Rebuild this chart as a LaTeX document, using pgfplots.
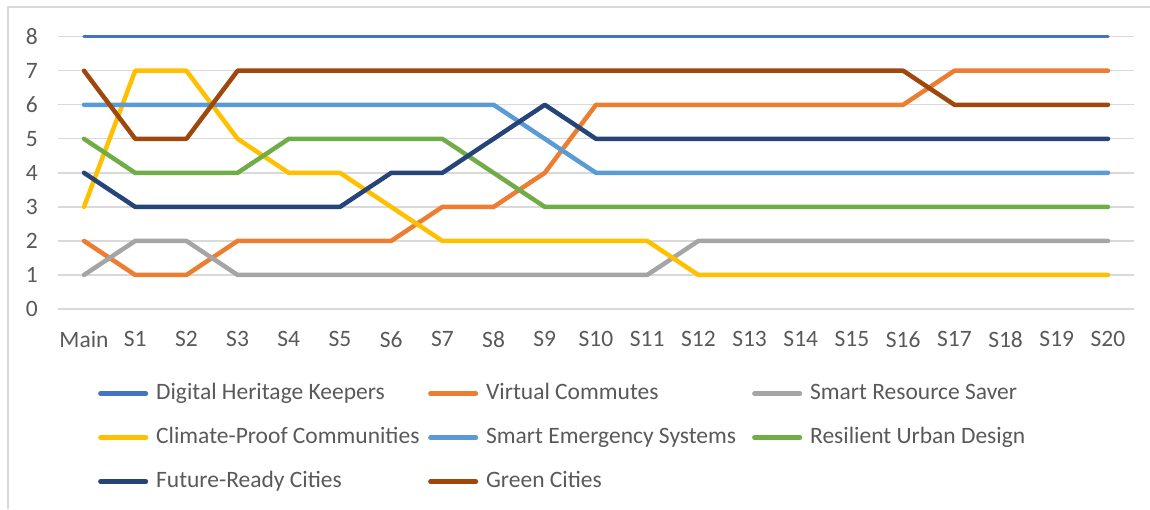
\documentclass[border=0pt]{standalone}
\usepackage{fontspec}
\setmainfont{Carlito}
\usepackage{pgfplots}
\pgfplotsset{compat=1.18}
\definecolor{c1}{HTML}{4472C4}
\definecolor{c2}{HTML}{ED7D31}
\definecolor{c3}{HTML}{A5A5A5}
\definecolor{c4}{HTML}{FFC000}
\definecolor{c5}{HTML}{5B9BD5}
\definecolor{c6}{HTML}{70AD47}
\definecolor{c7}{HTML}{264478}
\definecolor{c8}{HTML}{9E480E}
\definecolor{gridc}{HTML}{D9D9D9}
\definecolor{txt}{HTML}{595959}
\newcommand{\lf}{\fontsize{23.5pt}{27pt}\selectfont}
\begin{document}
\begin{tikzpicture}
\useasboundingbox (0,0) rectangle (1150pt,509pt);
\draw[color=gridc, line width=1.3pt] (8pt,0) -- (8pt,502pt) -- (1150pt,502pt);
\begin{axis}[
  at={(58.4pt,200pt)}, anchor=south west,
  scale only axis, width=1075.2pt, height=272.3pt,
  xmin=-0.5, xmax=20.5, ymin=0, ymax=8,
  clip=false,
  axis line style={draw=none},
  major tick length=0pt,
  ymajorgrids, grid style={color=gridc, line width=1.3pt},
  xtick={0,...,20},
  xticklabels={Main,S1,S2,S3,S4,S5,S6,S7,S8,S9,S10,S11,S12,S13,S14,S15,S16,S17,S18,S19,S20},
  ytick={0,...,8},
  /pgf/number format/assume math mode=true,
  ticklabel style={color=txt, font=\lf},
  yticklabel style={xshift=-17pt},
  xticklabel style={yshift=-19pt},
  every axis plot/.append style={line width=4.5pt, line cap=round, line join=round},
  legend columns=3,
  legend cell align=left,
  legend image code/.code={\draw[#1, line width=4.5pt, line cap=round] (0pt,0pt) -- (45.5pt,0pt);},
  legend style={at={(0.034,-0.2645)}, anchor=north west, draw=none, fill=none,
    font=\lf, text=txt, row sep=23pt,
    nodes={inner sep=0pt, text height=16pt, text depth=5pt},
    /tikz/every odd column/.append style={column sep=8pt}},
]
\addplot[c1, line width=3.5pt] coordinates {(0,8)(1,8)(2,8)(3,8)(4,8)(5,8)(6,8)(7,8)(8,8)(9,8)(10,8)(11,8)(12,8)(13,8)(14,8)(15,8)(16,8)(17,8)(18,8)(19,8)(20,8)};
\addlegendentry{\makebox[272pt][l]{Digital Heritage Keepers}}
\addplot[c2] coordinates {(0,2)(1,1)(2,1)(3,2)(4,2)(5,2)(6,2)(7,3)(8,3)(9,4)(10,6)(11,6)(12,6)(13,6)(14,6)(15,6)(16,6)(17,7)(18,7)(19,7)(20,7)};
\addlegendentry{\makebox[266pt][l]{Virtual Commutes}}
\addplot[c3] coordinates {(0,1)(1,2)(2,2)(3,1)(4,1)(5,1)(6,1)(7,1)(8,1)(9,1)(10,1)(11,1)(12,2)(13,2)(14,2)(15,2)(16,2)(17,2)(18,2)(19,2)(20,2)};
\addlegendentry{Smart Resource Saver}
\addplot[c4] coordinates {(0,3)(1,7)(2,7)(3,5)(4,4)(5,4)(6,3)(7,2)(8,2)(9,2)(10,2)(11,2)(12,1)(13,1)(14,1)(15,1)(16,1)(17,1)(18,1)(19,1)(20,1)};
\addlegendentry{\makebox[272pt][l]{Climate-Proof Communities}}
\addplot[c5] coordinates {(0,6)(1,6)(2,6)(3,6)(4,6)(5,6)(6,6)(7,6)(8,6)(9,5)(10,4)(11,4)(12,4)(13,4)(14,4)(15,4)(16,4)(17,4)(18,4)(19,4)(20,4)};
\addlegendentry{\makebox[266pt][l]{Smart Emergency Systems}}
\addplot[c6] coordinates {(0,5)(1,4)(2,4)(3,4)(4,5)(5,5)(6,5)(7,5)(8,4)(9,3)(10,3)(11,3)(12,3)(13,3)(14,3)(15,3)(16,3)(17,3)(18,3)(19,3)(20,3)};
\addlegendentry{Resilient Urban Design}
\addplot[c7] coordinates {(0,4)(1,3)(2,3)(3,3)(4,3)(5,3)(6,4)(7,4)(8,5)(9,6)(10,5)(11,5)(12,5)(13,5)(14,5)(15,5)(16,5)(17,5)(18,5)(19,5)(20,5)};
\addlegendentry{\makebox[272pt][l]{Future-Ready Cities}}
\addplot[c8] coordinates {(0,7)(1,5)(2,5)(3,7)(4,7)(5,7)(6,7)(7,7)(8,7)(9,7)(10,7)(11,7)(12,7)(13,7)(14,7)(15,7)(16,7)(17,6)(18,6)(19,6)(20,6)};
\addlegendentry{\makebox[266pt][l]{Green Cities}}
\end{axis}
\end{tikzpicture}
\end{document}
